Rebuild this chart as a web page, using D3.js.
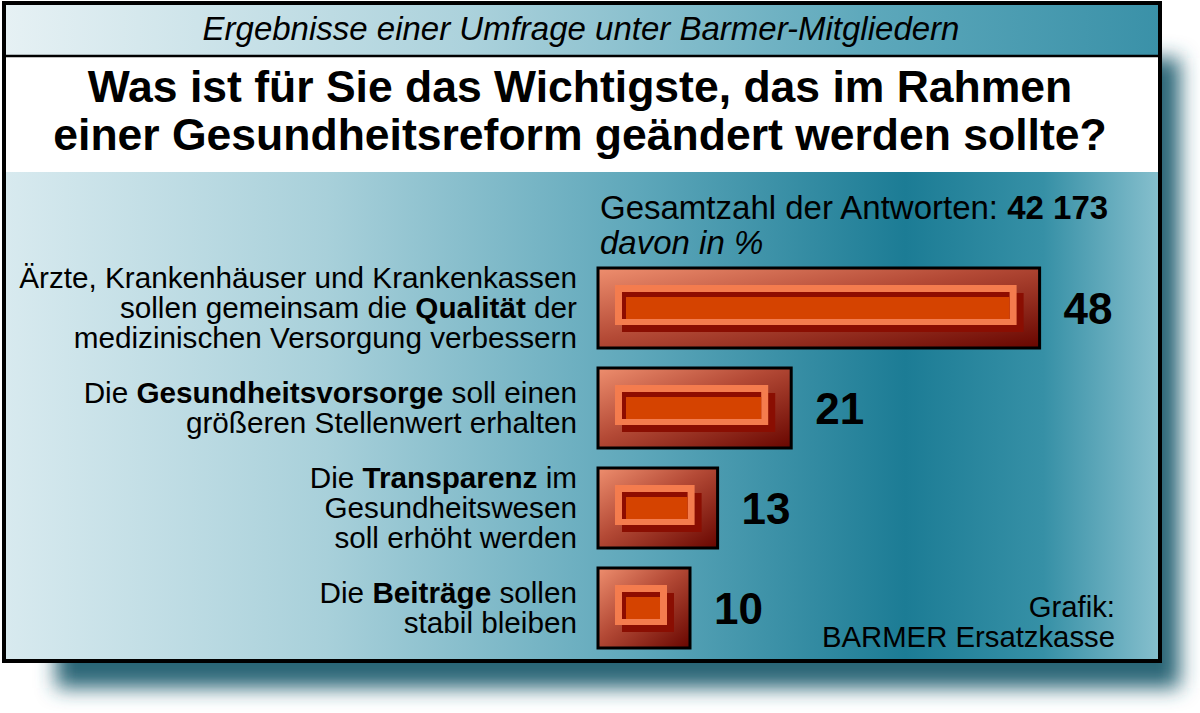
<!DOCTYPE html>
<html lang="de">
<head>
<meta charset="UTF-8">
<title>Barmer Umfrage</title>
<script src="https://d3js.org/d3.v7.min.js"></script>
<style>
  body { margin: 0; background: #fff; }
  text { font-family: "Liberation Sans", Arial, sans-serif; fill: #000; }
</style>
</head>
<body>
<svg width="1200" height="713"></svg>
<script>
// data
const categories = ["Qualität", "Gesundheitsvorsorge", "Transparenz", "Beiträge"];
const values = [48, 21, 13, 10];
const labelLines = [
  ["Ärzte, Krankenhäuser und Krankenkassen", "sollen gemeinsam die **Qualität** der", "medizinischen Versorgung verbessern"],
  ["Die **Gesundheitsvorsorge** soll einen", "größeren Stellenwert erhalten"],
  ["Die **Transparenz** im", "Gesundheitswesen", "soll erhöht werden"],
  ["Die **Beiträge** sollen", "stabil bleiben"]
];
const subtitle = "Ergebnisse einer Umfrage unter Barmer-Mitgliedern";
const titleLines = ["Was ist für Sie das Wichtigste, das im Rahmen", "einer Gesundheitsreform geändert werden sollte?"];
const totalLabel = "Gesamtzahl der Antworten: ";
const totalValue = "42 173";
const unitLabel = "davon in %";
const creditLines = ["Grafik:", "BARMER Ersatzkasse"];

const svg = d3.select("svg");
const defs = svg.append("defs");

function linGrad(id, stops, x2 = "100%", y2 = "0%") {
  const g = defs.append("linearGradient").attr("id", id)
    .attr("x1", "0%").attr("y1", "0%").attr("x2", x2).attr("y2", y2);
  stops.forEach(([o, c]) => g.append("stop").attr("offset", o).attr("stop-color", c));
}
linGrad("hdr", [[0, "#e6f1f4"], [0.4, "#acd2dc"], [0.75, "#5da8bb"], [1, "#3a91a8"]]);
linGrad("main", [[0, "#d8eaef"], [0.28, "#a8d0da"], [0.55, "#5ea7ba"], [0.78, "#1c7c95"], [0.9, "#3690a6"], [1, "#86bfcd"]]);
linGrad("bar", [[0, "#ee8e6e"], [0.45, "#b44a36"], [1, "#680600"]], "100%", "100%");

defs.append("filter").attr("id", "blur").attr("x", "-10%").attr("y", "-10%")
  .attr("width", "120%").attr("height", "120%")
  .append("feGaussianBlur").attr("stdDeviation", 10);

// drop shadow
svg.append("rect").attr("x", 56).attr("y", 58).attr("width", 1124).attr("height", 630)
  .attr("fill", "#2a6677").attr("filter", "url(#blur)");

// panel
svg.append("rect").attr("x", 4).attr("y", 4).attr("width", 1155).attr("height", 52).attr("fill", "url(#hdr)");
svg.append("rect").attr("x", 4).attr("y", 57).attr("width", 1155).attr("height", 115).attr("fill", "#fff");
svg.append("rect").attr("x", 4).attr("y", 172).attr("width", 1155).attr("height", 488).attr("fill", "url(#main)");
svg.append("line").attr("x1", 4).attr("x2", 1159).attr("y1", 56).attr("y2", 56)
  .attr("stroke", "#000").attr("stroke-width", 2.5);
svg.append("rect").attr("x", 4).attr("y", 3).attr("width", 1156).attr("height", 658)
  .attr("fill", "none").attr("stroke", "#000").attr("stroke-width", 4);

// header texts
svg.append("text").attr("x", 581).attr("y", 40).attr("text-anchor", "middle")
  .attr("font-size", 33).attr("font-style", "italic").text(subtitle);
svg.append("g").selectAll("text").data(titleLines).join("text")
  .attr("x", 580).attr("y", (d, i) => 102 + i * 48).attr("text-anchor", "middle")
  .attr("font-size", 44.5).attr("font-weight", "bold").text(d => d);

const info = svg.append("text").attr("x", 600).attr("y", 219).attr("font-size", 33);
info.append("tspan").text(totalLabel);
info.append("tspan").attr("font-weight", "bold").text(totalValue);
svg.append("text").attr("x", 600).attr("y", 254).attr("font-size", 33)
  .attr("font-style", "italic").text(unitLabel);

// scales
const x = d3.scaleLinear().domain([0, 50]).range([598, 1058]);
const y = d3.scaleBand().domain(categories).range([258, 658]).paddingInner(0.2).paddingOuter(0.1);

const rows = categories.map((c, i) => ({ c, v: values[i], lines: labelLines[i] }));

const bar = svg.append("g").selectAll("g").data(rows).join("g")
  .attr("transform", d => `translate(${x(0)},${y(d.c)})`);
const bw = d => x(d.v) - x(0), bh = y.bandwidth();

bar.append("rect").attr("width", bw).attr("height", bh)
  .attr("fill", "url(#bar)").attr("stroke", "#000").attr("stroke-width", 3);
bar.append("rect").attr("x", 24).attr("y", 25).attr("width", d => bw(d) - 40).attr("height", bh - 41)
  .attr("fill", "#8a0e02");
bar.append("rect").attr("x", 17).attr("y", 17).attr("width", d => bw(d) - 40).attr("height", bh - 40)
  .attr("fill", "#f47c4e");
bar.append("rect").attr("x", 24).attr("y", 24).attr("width", d => bw(d) - 54).attr("height", bh - 53)
  .attr("fill", "#8e0c00");
bar.append("rect").attr("x", 28).attr("y", 29).attr("width", d => bw(d) - 58).attr("height", bh - 58)
  .attr("fill", "#d54300");

// value labels
bar.append("text").attr("x", d => bw(d) + 24).attr("y", bh / 2 + 16)
  .attr("font-size", 44).attr("font-weight", "bold").text(d => d.v);

// category labels
const lineH = 30;
bar.each(function (d) {
  const n = d.lines.length;
  const t = d3.select(this).append("text").attr("text-anchor", "end").attr("font-size", 29.7);
  d.lines.forEach((ln, i) => {
    const ts = t.append("tspan").attr("x", -21).attr("y", bh / 2 + 10 + (i - (n - 1) / 2) * lineH);
    ln.split("**").forEach((seg, k) => {
      if (seg) ts.append("tspan").attr("font-weight", k % 2 ? "bold" : null).text(seg);
    });
  });
});

// credit
svg.append("g").selectAll("text").data(creditLines).join("text")
  .attr("x", 1115).attr("y", (d, i) => 617 + i * 30).attr("text-anchor", "end")
  .attr("font-size", 29.3).text(d => d);
</script>
</body>
</html>
